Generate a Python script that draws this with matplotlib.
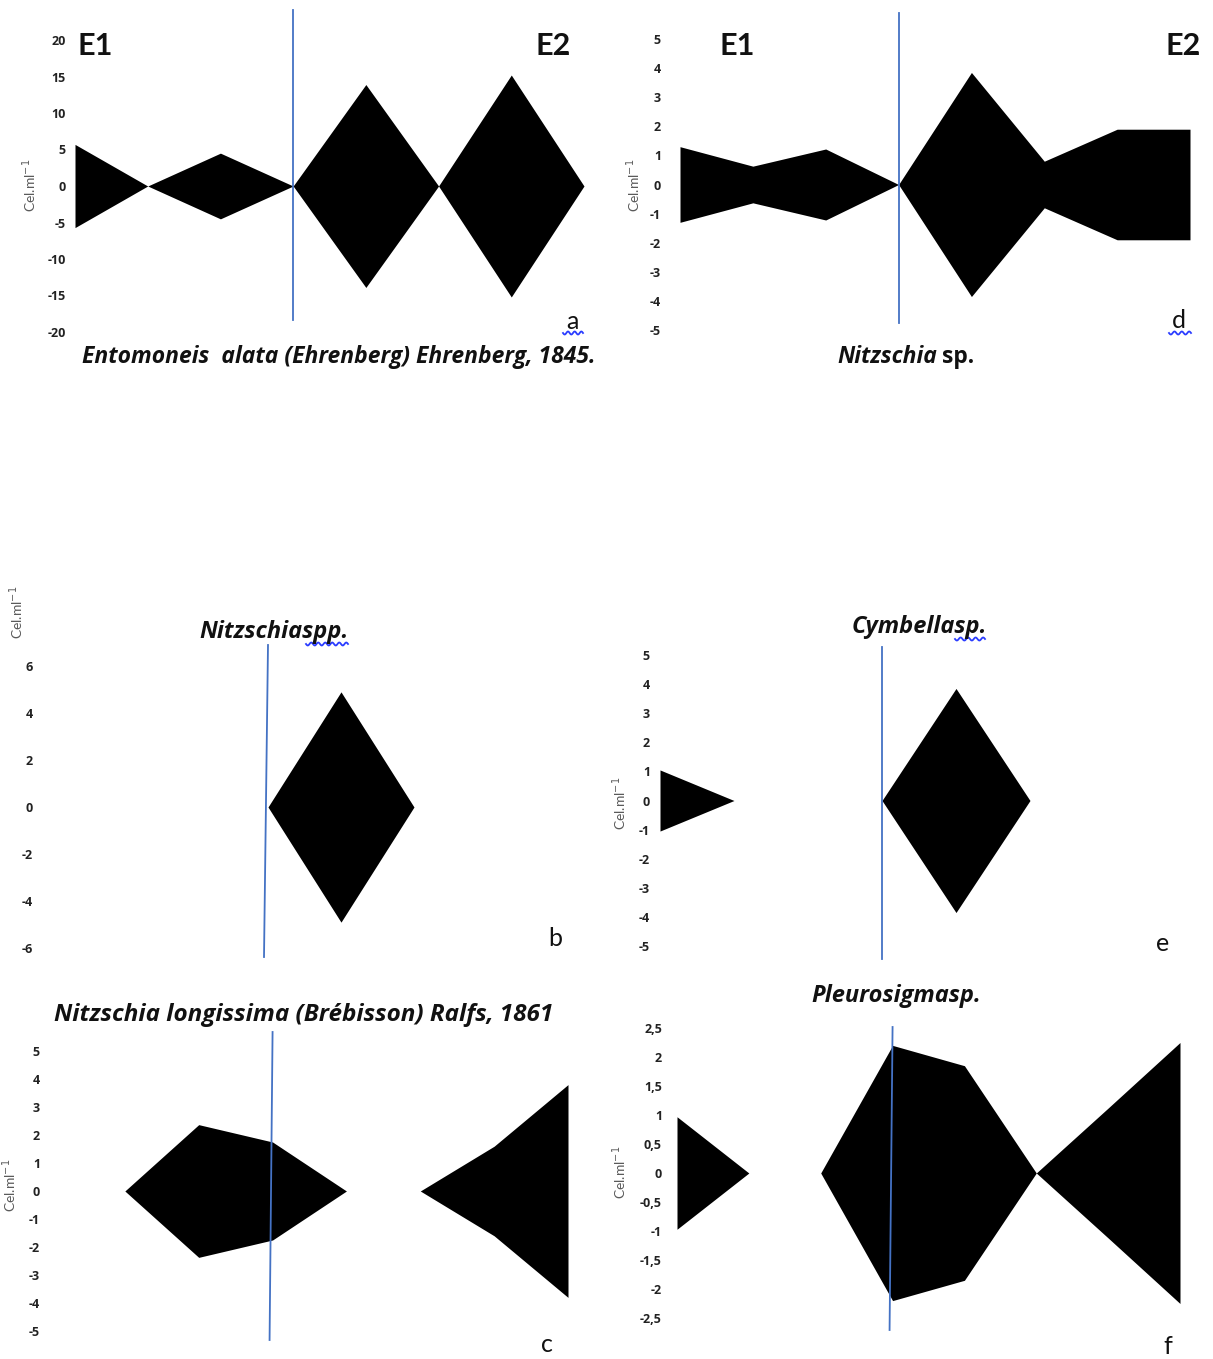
import numpy as np
import matplotlib
matplotlib.use("Agg")
import matplotlib.pyplot as plt
from matplotlib.lines import Line2D
import matplotlib.transforms as mtransforms

W, H = 1213, 1359
DPI = 100
plt.rcParams['font.family'] = ['Lato', 'DejaVu Sans']
TITLE_FONT = ['Open Sans', 'DejaVu Sans']

# Sampling points along the transect (E1 | E2)
points = np.arange(8)

# Kite half-widths (Cel.ml-1) at each sampling point
entomoneis_alata = [5.7, 0, 4.5, 0, 13.9, 0, 15.2, 0]
nitzschia_spp = [0, 0, 0, 0, 4.9, 0, 0, 0]
nitzschia_longissima = [0, 0, 2.37, 1.75, 0, 0, 1.6, 3.8]
nitzschia_sp = [1.3, 0.63, 1.22, 0, 3.85, 0.8, 1.9, 1.9]
cymbella_sp = [1.05, 0, 0, 0, 3.85, 0, 0, 0]
pleurosigma_sp = [0.97, 0, 0, 2.2, 1.85, 0, 1.12, 2.25]

# Tick values and labels
ticks_a = [-20, -15, -10, -5, 0, 5, 10, 15, 20]
labels_a = [str(t) for t in ticks_a]
ticks_b = [-6, -4, -2, 0, 2, 4, 6]
labels_b = [str(t) for t in ticks_b]
ticks_5 = [-5, -4, -3, -2, -1, 0, 1, 2, 3, 4, 5]
labels_5 = [str(t) for t in ticks_5]
ticks_f = [-2.5, -2, -1.5, -1, -0.5, 0, 0.5, 1, 1.5, 2, 2.5]
labels_f = ['-2,5', '-2', '-1,5', '-1', '-0,5', '0', '0,5', '1', '1,5', '2', '2,5']

SEP_COLOR = '#4472C4'

fig = plt.figure(figsize=(W / DPI, H / DPI), dpi=DPI)
fig.patch.set_facecolor('white')


def px_to_fig(x, y):
    return x / W, 1 - y / H


def kite_panel(values, ticks, labels, x0, x7, y_top, y_bot, pad_px,
               sep_top, sep_bot, sep_lean=0.0):
    ymax, ymin = ticks[-1], ticks[0]
    ax = fig.add_axes([x0 / W, 1 - y_bot / H, (x7 - x0) / W, (y_bot - y_top) / H])
    ax.set_xlim(points[0], points[-1])
    ax.set_ylim(ymin, ymax)
    v = np.asarray(values, dtype=float)
    ax.fill_between(points, -v, v, color='black', linewidth=0, zorder=2)
    ax.set_xticks([])
    ax.set_yticks(ticks)
    ax.set_yticklabels(labels, fontsize=9, fontweight='bold', color='#222222',
                       family=TITLE_FONT)
    ax.tick_params(axis='y', length=0, pad=pad_px * 72 / DPI)
    for s in ax.spines.values():
        s.set_visible(False)
    ax.patch.set_alpha(0)
    # separator between E1 and E2 at the fourth sampling point
    frac_top = (y_bot - sep_top) / (y_bot - y_top)
    frac_bot = (y_bot - sep_bot) / (y_bot - y_top)
    lean = sep_lean / ((x7 - x0) / (points[-1] - points[0]))
    trans = mtransforms.blended_transform_factory(ax.transData, ax.transAxes)
    ax.plot([points[3], points[3] + lean], [frac_top, frac_bot], color=SEP_COLOR,
            lw=1.3, transform=trans, clip_on=False, zorder=3)
    return ax


def ftext(x, y, s, **kw):
    fx, fy = px_to_fig(x, y)
    fig.text(fx, fy, s, **kw)


def squiggle(xl, xr, y):
    xs = np.linspace(xl, xr, 80)
    ys = y + 1.5 * np.sin((xs - xl) / (xr - xl) * 2 * np.pi * max(1, round((xr - xl) / 7)))
    fig.add_artist(Line2D(xs / W, 1 - ys / H, color='#2a3cff', lw=1.3))


def ylabel(x, y):
    ftext(x, y, 'Cel.ml$^{-1}$', rotation=90, fontsize=10, color='#5a5a5a',
          ha='center', va='center')


def caption(x, y, s, ha='center', italic=True, size=17):
    ftext(x, y, s, fontsize=size, fontweight='bold', style='italic' if italic else 'normal',
          family=TITLE_FONT, ha=ha, va='center', color='#111111')


def letter(x, y, s):
    ftext(x, y, s, fontsize=18, ha='center', va='baseline', color='#111111')


def station(x, y, s):
    ftext(x, y, s, fontsize=22, fontweight='bold', ha='center', va='center',
          color='#111111')


# a) Entomoneis alata
kite_panel(entomoneis_alata, ticks_a, labels_a, 75, 584, 40, 332, 9, 10, 320)
ylabel(30, 185)
station(95, 46, 'E1')
station(553, 46, 'E2')
letter(572, 329, 'a')
squiggle(563, 583, 333)
caption(339, 357, 'Entomoneis  alata (Ehrenberg) Ehrenberg, 1845.', size=16.5)

# d) Nitzschia sp.
kite_panel(nitzschia_sp, ticks_5, labels_5, 680, 1190, 39, 330, 19, 13, 323)
ylabel(634, 185)
station(737, 46, 'E1')
station(1183, 46, 'E2')
letter(1179, 328, 'd')
squiggle(1169, 1191, 333)
caption(937, 357, 'Nitzschia', ha='right', size=16.5)
caption(942, 357, 'sp.', ha='left', italic=False, size=16.5)

# b) Nitzschia spp.
kite_panel(nitzschia_spp, ticks_b, labels_b, 49, 560, 666, 948, 16, 645, 957, -4)
ylabel(17, 612)
caption(274, 632, 'Nitzschiaspp.')
squiggle(306, 348, 644)
letter(555, 946, 'b')

# e) Cymbella sp.
kite_panel(cymbella_sp, ticks_5, labels_5, 660, 1178, 655, 946, 10, 647, 959)
ylabel(620, 803)
caption(919, 627, 'Cymbellasp.')
squiggle(955, 985, 639)
letter(1163, 951, 'e')

# c) Nitzschia longissima
kite_panel(nitzschia_longissima, ticks_5, labels_5, 51, 568, 1051, 1331, 11,
           1032, 1340, -3)
ylabel(10, 1185)
caption(304, 1015, 'Nitzschia longissima (Brébisson) Ralfs, 1861', size=17.5)
letter(547, 1352, 'c')

# f) Pleurosigma sp.
kite_panel(pleurosigma_sp, ticks_f, labels_f, 677, 1180, 1028, 1318, 15,
           1027, 1330, -3)
ylabel(620, 1172)
caption(896, 996, 'Pleurosigmasp.')
letter(1168, 1354, 'f')

fig.savefig('out.png', dpi=DPI, facecolor='white')
